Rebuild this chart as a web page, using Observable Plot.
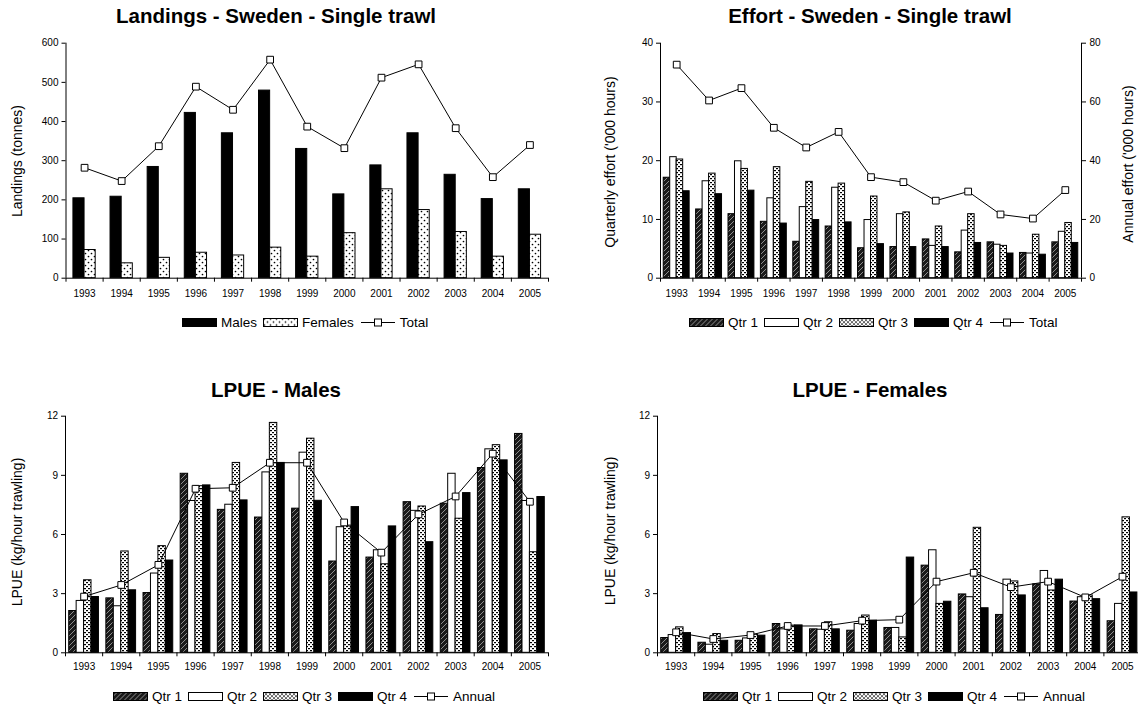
<!DOCTYPE html>
<html><head><meta charset="utf-8">
<script src="https://cdn.jsdelivr.net/npm/d3@7"></script>
<script src="https://cdn.jsdelivr.net/npm/@observablehq/plot@0.6"></script>
<style>
html,body{margin:0;padding:0;background:#fff;overflow:hidden}
#root{position:relative;width:1138px;height:709px;overflow:hidden;font-family:"Liberation Sans",Arial,Helvetica,sans-serif;color:#000}
.title{position:absolute;font-weight:bold;font-size:20.5px;transform:translate(-50%,-50%);white-space:nowrap}
.ylab{position:absolute;font-size:14px;white-space:nowrap;transform:translate(-50%,-50%) rotate(-90deg)}
.legend{position:absolute;display:flex;align-items:center;font-size:13.5px;white-space:nowrap;transform:translateY(-50%)}
.legend svg{display:block}
.panel{position:absolute}
</style></head>
<body><div id="root">
<svg width="0" height="0" style="position:absolute;left:0;top:0"><defs>
  <pattern id="hatch" patternUnits="userSpaceOnUse" width="5" height="5">
    <rect width="5" height="5" fill="#1a1a1a"/>
    <path d="M-1,1 L1,-1 M0,5 L5,0 M4,6 L6,4" stroke="#9a9a9a" stroke-width="0.9"/>
  </pattern>
  <pattern id="dash" patternUnits="userSpaceOnUse" width="4" height="4">
    <rect width="4" height="4" fill="#fff"/>
    <rect x="0" y="0" width="2" height="1.2" fill="#000"/>
    <rect x="2" y="2" width="2" height="1.2" fill="#000"/>
  </pattern>
  <pattern id="dots" patternUnits="userSpaceOnUse" width="6" height="6">
    <rect width="6" height="6" fill="#fff"/>
    <circle cx="1.5" cy="1.5" r="0.85" fill="#000"/>
    <circle cx="4.5" cy="4.5" r="0.85" fill="#000"/>
  </pattern>
</defs></svg>
</div>
<script>
// ---------- data ----------
const years = [1993,1994,1995,1996,1997,1998,1999,2000,2001,2002,2003,2004,2005];

// Landings (tonnes)
const landMales   = [204,208,284,422,370,479,330,214,288,370,264,202,227];
const landFemales = [72,38,52,65,58,78,55,115,227,174,118,55,111];
const landTotal   = [282,248,337,489,430,558,387,332,512,546,383,258,340];

// Effort ('000 hours)
const effQ1 = [17.1,11.7,10.9,9.6,6.2,8.8,5.1,5.3,6.6,4.4,6.1,4.3,6.1];
const effQ2 = [20.6,16.5,19.9,13.6,12.1,15.4,9.9,10.9,5.5,8.1,5.7,4.2,7.9];
const effQ3 = [20.2,17.8,18.6,18.9,16.4,16.1,13.9,11.2,8.8,10.9,5.5,7.4,9.4];
const effQ4 = [14.8,14.3,14.9,9.3,9.9,9.5,5.8,5.3,5.3,6.0,4.2,4.0,6.0];
const effTotal = [72.7,60.5,64.7,51.2,44.5,49.8,34.4,32.7,26.4,29.5,21.7,20.3,30.0];

// LPUE males (kg/hour trawling)
const lpueMQ1 = [2.12,2.76,3.03,9.08,7.25,6.86,7.31,4.63,4.83,7.64,7.56,9.37,11.1];
const lpueMQ2 = [2.63,2.36,4.02,7.7,7.51,9.15,10.15,6.37,5.2,7.2,9.08,10.32,7.7];
const lpueMQ3 = [3.68,5.14,5.41,8.45,9.63,11.66,10.86,6.45,4.49,7.42,6.8,10.53,5.1];
const lpueMQ4 = [2.83,3.17,4.68,8.49,7.73,9.63,7.71,7.39,6.41,5.61,8.1,9.76,7.9];
const lpueMAnnual = [2.85,3.44,4.46,8.32,8.37,9.64,9.64,6.61,5.08,7.02,7.93,10.1,7.66];

// LPUE females (kg/hour trawling)
const lpueFQ1 = [0.75,0.51,0.61,1.46,1.19,1.12,1.26,4.42,2.96,1.92,3.47,2.60,1.60];
const lpueFQ2 = [0.90,0.41,0.73,1.19,1.17,1.46,1.26,5.20,2.82,3.71,4.15,2.82,2.48];
const lpueFQ3 = [1.29,0.95,0.92,1.38,1.55,1.89,0.78,2.48,6.34,3.62,3.16,2.91,6.87];
const lpueFQ4 = [1.00,0.61,0.87,1.39,1.19,1.63,4.83,2.59,2.26,2.91,3.71,2.72,3.06];
const lpueFAnnual = [1.04,0.70,0.90,1.36,1.36,1.63,1.68,3.61,4.06,3.33,3.61,2.81,3.86];

const qtrLabels = ["Qtr 1","Qtr 2","Qtr 3","Qtr 4"];
const FILL = {q1:"url(#hatch)", q2:"#fff", q3:"url(#dash)", q4:"#000", fem:"url(#dots)"};

// ---------- helpers ----------
const root = document.getElementById("root");
const FONT = '"Liberation Sans", Arial, Helvetica, sans-serif';

function addText(cls, txt, x, y) {
  const d = document.createElement("div");
  d.className = cls; d.textContent = txt;
  d.style.left = x + "px"; d.style.top = y + "px";
  root.appendChild(d);
}

function addLegend(items, x, y) {
  const d = document.createElement("div");
  d.className = "legend";
  d.style.left = x + "px"; d.style.top = y + "px";
  items.forEach((it, i) => {
    const ns = "http://www.w3.org/2000/svg";
    const s = document.createElementNS(ns, "svg");
    if (it.line) {
      s.setAttribute("width", 36); s.setAttribute("height", 10);
      s.innerHTML = '<line x1="1" x2="35" y1="5" y2="5" stroke="#000"/><rect x="14.5" y="1.5" width="7" height="7" fill="#fff" stroke="#000"/>';
    } else {
      s.setAttribute("width", 35); s.setAttribute("height", 10);
      s.innerHTML = `<rect x="0.5" y="1" width="34" height="8" fill="${it.fill}" stroke="#000"/>`;
    }
    s.style.marginLeft = i === 0 ? "0px" : "6px";
    s.style.marginRight = "4px";
    d.appendChild(s);
    const t = document.createElement("span");
    t.textContent = it.label;
    d.appendChild(t);
  });
  root.appendChild(d);
}

function drawPanel(cfg) {
  const rows = years.map((year, i) => {
    const r = {year, line: cfg.line[i]};
    cfg.series.forEach((s, k) => r["s" + k] = s.values[i]);
    return r;
  });
  const plotW = cfg.width - cfg.mL - cfg.mR;
  const plotH = cfg.height - cfg.mT - cfg.mB;
  const bw = plotW / years.length;
  const marks = [];
  cfg.series.forEach((s, k) => {
    const l = bw * (cfg.gap + k * cfg.barFrac);
    const r = bw - l - bw * cfg.barFrac;
    marks.push(Plot.barY(rows, {x: "year", y: "s" + k, fill: s.fill, stroke: "#000", strokeWidth: 1, insetLeft: l, insetRight: r}));
  });
  const last = years[years.length - 1];
  marks.push(Plot.ruleY([0], {stroke: "#000"}));
  marks.push(Plot.ruleX([years[0]], {dx: -bw / 2, stroke: "#000"}));
  marks.push(Plot.ruleX(years, {dx: -bw / 2, insetTop: plotH, insetBottom: -4, stroke: "#000"}));
  marks.push(Plot.ruleX([last], {dx: bw / 2, insetTop: plotH, insetBottom: -4, stroke: "#000"}));
  if (cfg.rightTicks) {
    marks.push(Plot.ruleX([last], {dx: bw / 2, stroke: "#000"}));
    marks.push(Plot.axisY({anchor: "right", ticks: cfg.yTicks, tickSize: 4, tickPadding: 4, label: null,
      tickFormat: d => String(d * cfg.lineScale)}));
  }
  const ly = d => d.line / (cfg.lineScale || 1);
  marks.push(Plot.lineY(rows, {x: "year", y: ly, stroke: "#000", strokeWidth: 1}));
  marks.push(Plot.dot(rows, {x: "year", y: ly, symbol: "square", r: 3.8, fill: "#fff", stroke: "#000", strokeWidth: 1}));
  marks.push(Plot.axisX({tickSize: 0, tickPadding: cfg.xPad, label: null, tickFormat: d => String(d)}));
  marks.push(Plot.axisY({ticks: cfg.yTicks, tickSize: 4, tickPadding: 3.5, label: null, tickFormat: d => String(d)}));

  const svg = Plot.plot({
    width: cfg.width, height: cfg.height,
    marginLeft: cfg.mL, marginRight: cfg.mR, marginTop: cfg.mT, marginBottom: cfg.mB,
    x: {type: "band", domain: years, padding: 0, round: false},
    y: {domain: cfg.yDomain},
    style: {fontFamily: FONT, fontSize: "10px", color: "#000", background: "transparent", overflow: "visible"},
    marks
  });
  svg.classList.add("panel");
  svg.style.left = cfg.left + "px";
  svg.style.top = cfg.top + "px";
  root.appendChild(svg);
}

// ---------- panel 1: Landings ----------
drawPanel({
  left: 0, top: 30, width: 570, height: 280, mL: 65.5, mR: 22, mT: 12.7, mB: 32.3,
  yDomain: [0, 600], yTicks: [0,100,200,300,400,500,600], xPad: 11.5,
  gap: 0.2, barFrac: 0.3,
  series: [{values: landMales, fill: FILL.q4}, {values: landFemales, fill: FILL.fem}],
  line: landTotal
});
addText("title", "Landings - Sweden - Single trawl", 276, 16);
addText("ylab", "Landings  (tonnes)", 16.5, 161);
addLegend([{label: "Males", fill: FILL.q4}, {label: "Females", fill: FILL.fem}, {label: "Total", line: true}], 182, 322);

// ---------- panel 2: Effort ----------
drawPanel({
  left: 570, top: 30, width: 568, height: 280, mL: 90, mR: 57, mT: 12.7, mB: 32.3,
  yDomain: [0, 40], yTicks: [0,10,20,30,40], xPad: 11.5,
  gap: 0.1, barFrac: 0.2, rightTicks: true, lineScale: 2,
  series: [{values: effQ1, fill: FILL.q1}, {values: effQ2, fill: FILL.q2}, {values: effQ3, fill: FILL.q3}, {values: effQ4, fill: FILL.q4}],
  line: effTotal
});
addText("title", "Effort - Sweden - Single trawl", 870, 16);
addText("ylab", "Quarterly effort ('000 hours)", 610, 162);
addText("ylab", "Annual effort ('000 hours)", 1128, 164);
addLegend([{label: qtrLabels[0], fill: FILL.q1}, {label: qtrLabels[1], fill: FILL.q2}, {label: qtrLabels[2], fill: FILL.q3}, {label: qtrLabels[3], fill: FILL.q4}, {label: "Total", line: true}], 689, 322);

// ---------- panel 3: LPUE males ----------
drawPanel({
  left: 0, top: 400, width: 570, height: 280, mL: 65, mR: 22, mT: 15.7, mB: 27.7,
  yDomain: [0, 12], yTicks: [0,3,6,9,12], xPad: 9.8,
  gap: 0.1, barFrac: 0.2,
  series: [{values: lpueMQ1, fill: FILL.q1}, {values: lpueMQ2, fill: FILL.q2}, {values: lpueMQ3, fill: FILL.q3}, {values: lpueMQ4, fill: FILL.q4}],
  line: lpueMAnnual
});
addText("title", "LPUE - Males", 276, 390);
addText("ylab", "LPUE  (kg/hour trawling)", 16.5, 532);
addLegend([{label: qtrLabels[0], fill: FILL.q1}, {label: qtrLabels[1], fill: FILL.q2}, {label: qtrLabels[2], fill: FILL.q3}, {label: qtrLabels[3], fill: FILL.q4}, {label: "Annual", line: true}], 113, 696);

// ---------- panel 4: LPUE females ----------
drawPanel({
  left: 570, top: 400, width: 600, height: 280, mL: 87, mR: 29.4, mT: 15.7, mB: 27.7,
  yDomain: [0, 12], yTicks: [0,3,6,9,12], xPad: 9.8,
  gap: 0.1, barFrac: 0.2,
  series: [{values: lpueFQ1, fill: FILL.q1}, {values: lpueFQ2, fill: FILL.q2}, {values: lpueFQ3, fill: FILL.q3}, {values: lpueFQ4, fill: FILL.q4}],
  line: lpueFAnnual
});
addText("title", "LPUE - Females", 870, 390);
addText("ylab", "LPUE  (kg/hour trawling)", 610, 531);
addLegend([{label: qtrLabels[0], fill: FILL.q1}, {label: qtrLabels[1], fill: FILL.q2}, {label: qtrLabels[2], fill: FILL.q3}, {label: qtrLabels[3], fill: FILL.q4}, {label: "Annual", line: true}], 703, 696);
</script>
</body></html>
